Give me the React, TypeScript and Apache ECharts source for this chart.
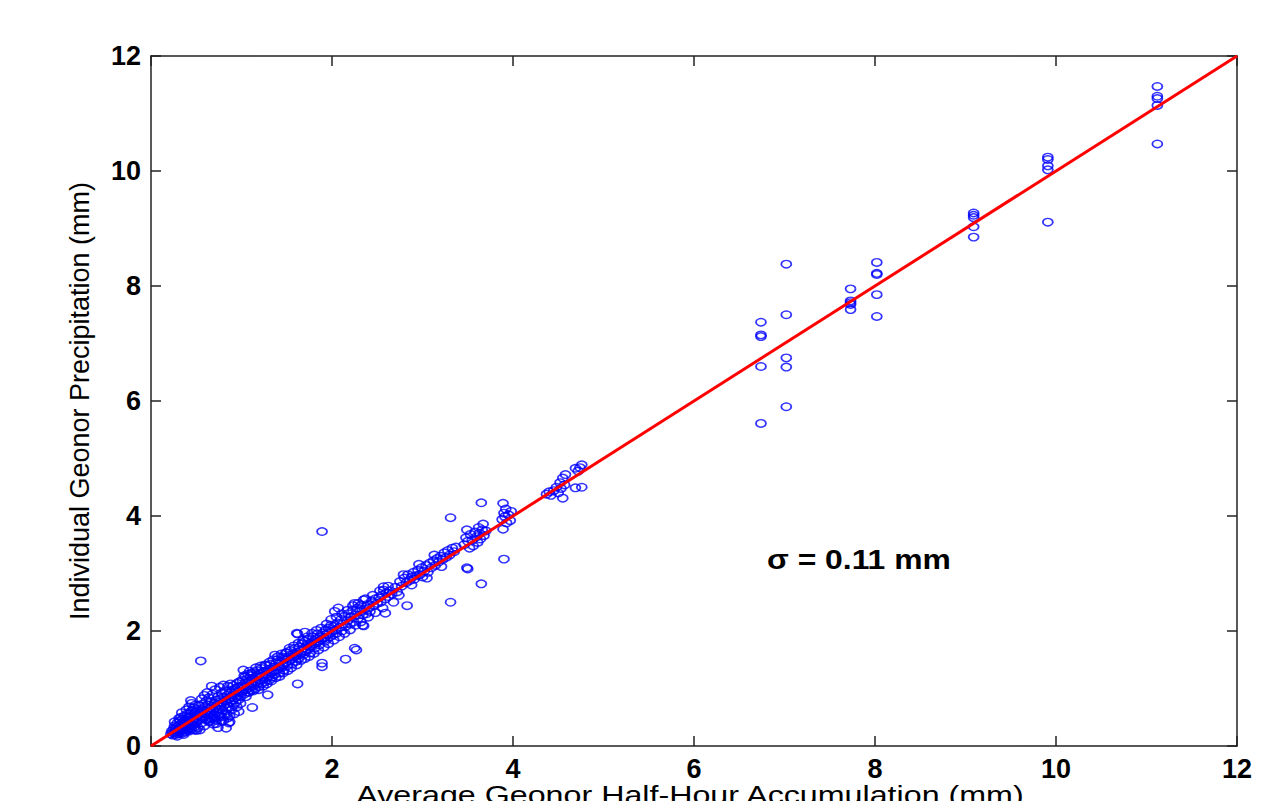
import React, { useEffect, useRef } from "react";
import * as echarts from "echarts";

// Average Geonor half-hour accumulation (x, mm) vs individual Geonor precipitation (y, mm)
const gaugePoints: [number, number][] = [
  // 0.2 – 0.5 mm
  [0.22,0.21],[0.23,0.26],[0.24,0.19],[0.25,0.30],[0.25,0.23],[0.26,0.35],[0.27,0.20],[0.27,0.28],[0.28,0.33],[0.28,0.24],
  [0.29,0.40],[0.30,0.27],[0.30,0.21],[0.31,0.36],[0.31,0.30],[0.32,0.44],[0.32,0.25],[0.33,0.32],[0.33,0.38],[0.34,0.22],
  [0.34,0.29],[0.35,0.47],[0.35,0.35],[0.36,0.27],[0.36,0.41],[0.37,0.31],[0.37,0.52],[0.38,0.24],[0.38,0.37],[0.39,0.45],
  [0.39,0.33],[0.40,0.28],[0.40,0.56],[0.41,0.40],[0.41,0.35],[0.42,0.49],[0.42,0.26],[0.43,0.44],[0.43,0.31],[0.44,0.79],
  [0.44,0.38],[0.44,0.60],[0.45,0.52],[0.45,0.29],[0.46,0.43],[0.46,0.36],[0.47,0.66],[0.47,0.47],[0.48,0.33],[0.48,0.55],
  [0.49,0.40],[0.49,0.71],[0.50,0.49],[0.50,0.27],[0.26,0.42],[0.29,0.17],[0.31,0.48],[0.34,0.58],[0.36,0.20],[0.39,0.63],
  [0.42,0.68],[0.45,0.74],[0.48,0.28],[0.33,0.50],[0.37,0.44],[0.40,0.45],[0.43,0.57],[0.46,0.62],[0.49,0.58],[0.47,0.40],
  // 0.5 – 1.0 mm
  [0.51,0.60],[0.51,0.42],[0.52,0.53],[0.52,0.32],[0.53,0.70],[0.53,0.47],[0.54,0.58],[0.54,0.28],[0.55,1.48],[0.55,0.64],
  [0.55,0.51],[0.56,0.82],[0.56,0.40],[0.57,0.56],[0.57,0.73],[0.58,0.49],[0.58,0.62],[0.59,0.88],[0.59,0.35],[0.60,0.57],
  [0.60,0.68],[0.61,0.46],[0.61,0.78],[0.62,0.61],[0.62,0.93],[0.63,0.54],[0.63,0.71],[0.64,0.42],[0.64,0.84],[0.65,0.66],
  [0.65,0.50],[0.66,0.58],[0.66,0.76],[0.67,1.04],[0.67,0.47],[0.68,0.69],[0.68,0.90],[0.69,0.62],[0.69,0.38],[0.70,0.74],
  [0.70,0.55],[0.71,0.98],[0.71,0.66],[0.72,0.80],[0.72,0.45],[0.73,0.71],[0.73,0.58],[0.74,0.86],[0.74,0.32],[0.75,0.76],
  [0.75,0.64],[0.76,1.02],[0.76,0.52],[0.77,0.81],[0.77,0.70],[0.78,0.92],[0.78,0.43],[0.79,0.75],[0.79,0.62],[0.80,0.85],
  [0.80,1.06],[0.81,0.71],[0.81,0.55],[0.82,0.96],[0.82,0.79],[0.83,0.31],[0.83,0.66],[0.84,0.88],[0.84,0.74],[0.85,1.04],
  [0.85,0.49],[0.86,0.82],[0.86,0.68],[0.87,0.93],[0.87,0.42],[0.88,0.77],[0.88,1.08],[0.89,0.86],[0.89,0.63],[0.90,0.97],
  [0.90,0.80],[0.91,0.72],[0.91,1.05],[0.92,0.89],[0.92,0.56],[0.93,0.83],[0.93,1.00],[0.94,0.76],[0.94,0.94],[0.95,1.09],
  [0.95,0.68],[0.96,0.88],[0.96,1.02],[0.97,0.81],[0.97,0.60],[0.98,0.95],[0.98,1.12],[0.99,0.86],[0.99,0.74],[1.00,1.04],
  [1.00,0.92],[0.65,0.43],[0.70,0.48],[0.72,0.39],[0.75,0.55],[0.78,0.51],[0.80,0.44],[0.84,0.56],[0.86,0.40],[0.87,0.52],
  [0.68,0.52],
  // 1.0 – 1.6 mm
  [1.01,1.14],[1.01,0.95],[1.02,1.32],[1.02,1.05],[1.03,0.90],[1.04,1.10],[1.04,1.20],[1.05,0.98],[1.06,1.16],[1.06,1.04],
  [1.07,1.25],[1.08,0.93],[1.08,1.12],[1.09,1.02],[1.10,1.22],[1.10,1.08],[1.11,0.97],[1.12,0.67],[1.12,1.17],[1.13,1.28],
  [1.14,1.06],[1.15,1.20],[1.15,0.99],[1.16,1.13],[1.17,1.31],[1.18,1.09],[1.18,1.22],[1.19,1.03],[1.20,1.26],[1.21,1.14],
  [1.22,1.35],[1.22,1.08],[1.23,1.21],[1.24,1.16],[1.25,1.30],[1.26,1.12],[1.27,1.40],[1.27,1.24],[1.28,1.18],[1.29,0.89],
  [1.30,1.33],[1.30,1.22],[1.31,1.15],[1.32,1.42],[1.33,1.28],[1.34,1.20],[1.35,1.37],[1.36,1.30],[1.37,1.58],[1.37,1.25],
  [1.38,1.44],[1.39,1.33],[1.40,1.50],[1.41,1.38],[1.42,1.27],[1.43,1.46],[1.44,1.36],[1.45,1.55],[1.46,1.41],[1.47,1.32],
  [1.48,1.52],[1.49,1.45],[1.50,1.62],[1.51,1.40],[1.52,1.55],[1.53,1.48],[1.54,1.66],[1.55,1.50],[1.56,1.43],[1.57,1.60],
  [1.58,1.54],[1.59,1.70],[1.60,1.57],[1.60,1.47],
  [1.03,1.22],[1.05,0.86],[1.07,0.94],[1.09,1.30],[1.11,1.26],[1.13,0.96],[1.16,1.36],[1.19,0.98],[1.21,1.39],[1.24,1.04],
  [1.26,1.41],[1.28,1.08],[1.31,1.46],[1.33,1.13],[1.35,1.50],[1.38,1.19],[1.40,1.55],[1.42,1.21],[1.44,1.60],[1.46,1.27],
  [1.49,1.62],[1.51,1.31],[1.53,1.70],[1.55,1.36],[1.58,1.74],
  // 1.6 – 2.55 mm
  [1.61,1.96],[1.62,1.08],[1.62,1.63],[1.63,1.52],[1.64,1.72],[1.65,1.60],[1.66,1.66],[1.67,1.78],[1.68,1.58],[1.69,1.70],
  [1.70,1.82],[1.71,1.64],[1.72,1.75],[1.73,1.68],[1.74,1.86],[1.75,1.72],[1.76,1.62],[1.77,1.80],[1.78,1.74],[1.79,1.90],
  [1.80,1.78],[1.81,1.70],[1.82,1.86],[1.83,1.80],[1.84,1.95],[1.85,1.82],[1.86,1.76],[1.87,1.90],[1.88,1.85],[1.89,1.44],
  [1.89,1.38],[1.89,3.73],[1.90,1.97],[1.91,1.88],[1.92,1.82],[1.93,2.02],[1.94,1.94],[1.95,1.87],[1.96,2.05],[1.97,1.96],
  [1.98,1.90],[1.99,2.10],[2.00,2.00],[2.01,1.93],[2.02,2.08],[2.03,2.34],[2.04,2.02],[2.05,1.96],[2.06,2.14],[2.08,2.06],
  [2.10,2.20],[2.11,2.00],[2.12,2.12],[2.14,2.26],[2.15,1.51],[2.15,2.08],[2.17,2.18],[2.18,2.30],[2.20,2.12],[2.21,2.24],
  [2.23,2.36],[2.24,2.16],[2.25,1.70],[2.26,2.28],[2.27,1.67],[2.28,2.40],[2.29,2.22],[2.31,2.34],[2.32,2.45],[2.34,2.10],
  [2.34,2.28],[2.35,2.54],[2.35,2.09],[2.36,2.38],[2.38,2.30],[2.39,2.46],[2.41,2.40],[2.42,2.34],[2.44,2.52],[2.46,2.44],
  [2.48,2.56],[2.50,2.48],[2.52,2.58],[2.54,2.50],
  [1.61,1.41],[1.63,1.79],[1.66,1.49],[1.68,1.84],[1.70,1.52],[1.73,1.90],[1.75,1.56],[1.78,1.96],[1.80,1.61],[1.83,2.01],
  [1.85,1.67],[1.88,2.05],[1.91,1.72],[1.94,2.12],[1.96,1.78],[1.99,2.20],[2.02,1.84],[2.05,2.24],[2.08,1.90],[2.11,2.30],
  [2.14,1.96],[2.17,2.36],[2.20,2.02],[2.23,2.44],[2.26,2.10],[2.29,2.48],[2.32,2.16],[2.37,2.56],[2.40,2.24],[2.45,2.62],
  [2.48,2.32],[2.53,2.70],[1.62,1.95],[1.70,1.98],[2.07,2.40],[2.25,2.48],
  // 2.55 – 3.4 mm
  [2.55,2.62],[2.57,2.71],[2.57,2.77],[2.59,2.31],[2.59,2.56],[2.60,2.66],[2.62,2.60],[2.64,2.70],[2.66,2.64],[2.70,2.76],
  [2.72,2.68],[2.75,2.86],[2.77,2.78],[2.80,2.92],[2.82,2.84],[2.83,2.44],[2.84,2.98],[2.86,2.88],[2.88,2.94],[2.90,3.02],
  [2.91,2.90],[2.93,2.96],[2.95,3.06],[2.97,2.98],[2.99,3.10],[3.00,2.94],[3.02,3.04],[3.04,3.14],[3.06,3.02],[3.08,3.18],
  [3.10,3.10],[3.12,3.22],[3.14,3.14],[3.16,3.26],[3.18,3.20],[3.20,3.30],[3.22,3.24],[3.24,3.36],[3.26,3.28],[3.28,3.40],
  [3.30,3.32],[3.31,3.97],[3.31,2.50],[3.33,3.44],[3.35,3.38],[3.37,3.46],
  [2.56,2.40],[2.62,2.78],[2.68,2.50],[2.74,2.62],[2.79,2.98],[2.88,2.80],[2.96,3.16],[3.05,2.92],[3.13,3.32],[3.21,3.12],
  // 3.4 – 4.0 mm
  [3.46,3.50],[3.48,3.62],[3.49,3.76],[3.49,3.10],[3.50,3.08],[3.50,3.56],[3.52,3.44],[3.53,3.68],[3.55,3.58],[3.56,3.48],
  [3.58,3.72],[3.60,3.64],[3.61,3.54],[3.62,3.80],[3.63,3.70],[3.64,3.60],[3.65,4.23],[3.65,2.82],[3.66,3.76],[3.67,3.86],
  [3.68,3.66],[3.70,3.74],[3.88,3.94],[3.89,4.22],[3.89,3.77],[3.90,3.25],[3.90,4.05],[3.91,3.99],[3.92,4.12],[3.93,3.88],
  [3.95,4.02],[3.97,3.92],[3.98,4.08],
  // 4.3 – 4.8 mm
  [4.37,4.38],[4.40,4.42],[4.42,4.36],[4.45,4.44],[4.48,4.50],[4.50,4.40],[4.52,4.58],[4.53,4.48],[4.55,4.31],[4.55,4.66],
  [4.57,4.54],[4.58,4.72],[4.69,4.83],[4.69,4.49],[4.72,4.78],[4.76,4.89],[4.76,4.50],[4.74,4.84],
  // large events
  [6.74,7.37],[6.74,7.12],[6.74,7.15],[6.74,6.60],[6.74,5.61],
  [7.02,8.38],[7.02,7.50],[7.02,6.75],[7.02,6.59],[7.02,5.90],
  [7.73,7.95],[7.73,7.74],[7.73,7.68],[7.73,7.59],[7.73,7.71],
  [8.02,8.41],[8.02,8.22],[8.02,8.20],[8.02,7.85],[8.02,7.47],
  [9.09,9.27],[9.09,9.23],[9.09,9.19],[9.09,9.03],[9.09,8.85],
  [9.91,10.24],[9.91,10.20],[9.91,10.09],[9.91,10.02],[9.91,9.11],
  [11.12,11.47],[11.12,11.30],[11.12,11.26],[11.12,11.14],[11.12,10.47],
];

const fitLine: [number, number][] = [[0, 0], [12, 12]];
const axisMin = 0;
const axisMax = 12;
const axisStep = 2;
const sigmaLabel = "σ = 0.11 mm";
const xTitle = "Average Geonor Half-Hour Accumulation (mm)";
const yTitle = "Individual Geonor Precipitation (mm)";

const FONT = "'Liberation Sans', Arial, Helvetica, sans-serif";

export default function App() {
  const ref = useRef<HTMLDivElement>(null);
  useEffect(() => {
    if (!ref.current) return;
    const chart = echarts.init(ref.current, undefined, { renderer: "svg" });
    const axisCommon = {
      type: "value" as const,
      min: axisMin,
      max: axisMax,
      interval: axisStep,
      splitLine: { show: false },
      axisLine: { show: true, onZero: false, lineStyle: { color: "#222", width: 1.5 } },
      axisTick: { show: true, inside: true, length: 10, lineStyle: { color: "#222", width: 1.5 } },
    };
    const labelStyle = {
      show: true,
      color: "#000",
      fontSize: 27,
      fontWeight: "bold" as const,
      fontFamily: FONT,
      showMinLabel: true,
      showMaxLabel: true,
    };
    chart.setOption({
      animation: false,
      backgroundColor: "#fff",
      grid: { left: 151, right: 51, top: 56, bottom: 63, containLabel: false },
      xAxis: [
        { ...axisCommon, position: "bottom", axisLabel: { ...labelStyle, margin: 9 } },
        { ...axisCommon, position: "top", axisLabel: { show: false } },
      ],
      yAxis: [
        {
          ...axisCommon,
          position: "left",
          axisLabel: { ...labelStyle, margin: 10 },
          name: yTitle,
          nameLocation: "middle",
          nameGap: 58,
          nameTextStyle: { color: "#000", fontSize: 27, fontFamily: FONT },
        },
        { ...axisCommon, position: "right", axisLabel: { show: false } },
      ],
      series: [
        {
          type: "scatter",
          xAxisIndex: 0,
          yAxisIndex: 0,
          data: gaugePoints,
          symbol: "circle",
          symbolSize: [10, 7.5],
          itemStyle: { color: "rgba(0,0,0,0)", borderColor: "#0000ff", borderWidth: 1.6 },
          z: 2,
        },
        {
          type: "line",
          xAxisIndex: 0,
          yAxisIndex: 0,
          data: fitLine,
          symbol: "none",
          lineStyle: { color: "#ff0000", width: 3 },
          z: 3,
        },
      ],
      graphic: [
        {
          type: "text",
          x: 690,
          y: 795,
          scaleX: 1.24,
          style: {
            text: xTitle,
            fill: "#000",
            fontSize: 26,
            fontFamily: FONT,
            textAlign: "center",
            textVerticalAlign: "middle",
          },
        },
        {
          type: "text",
          x: 767,
          y: 559,
          scaleX: 1.18,
          style: {
            text: sigmaLabel,
            fill: "#000",
            fontSize: 27,
            fontWeight: "bold",
            fontFamily: FONT,
            textAlign: "left",
            textVerticalAlign: "middle",
          },
        },
      ],
    });
    return () => chart.dispose();
  }, []);
  return <div ref={ref} style={{ width: 1288, height: 809, margin: -8 }} />;
}
